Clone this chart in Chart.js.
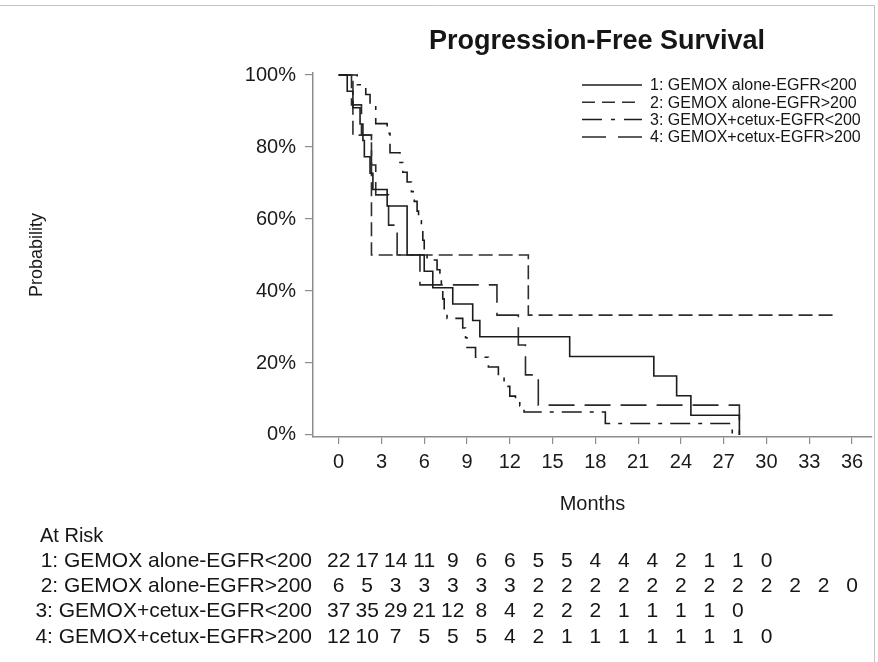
<!DOCTYPE html>
<html>
<head>
<meta charset="utf-8">
<title>Progression-Free Survival</title>
<script src="https://cdn.jsdelivr.net/npm/chart.js@4"></script>
<style>
  html, body { margin: 0; padding: 0; background: #fff; }
  #wrap { position: relative; width: 878px; height: 662px; }
</style>
</head>
<body>
<div id="wrap"><canvas id="pfsChart" width="878" height="662"></canvas></div>
<script>
const chartTitle = 'Progression-Free Survival';
const seriesLabels = [
  '1: GEMOX alone-EGFR<200',
  '2: GEMOX alone-EGFR>200',
  '3: GEMOX+cetux-EGFR<200',
  '4: GEMOX+cetux-EGFR>200'
];

// Kaplan-Meier steps: time of each drop (months) and survival after it
const t1 = [0, 0.6, 1.0, 1.5, 1.7, 1.8, 2.2, 2.4, 3.4, 4.8, 6.0, 6.6, 8.0, 9.4, 9.9, 16.2, 22.1, 23.7, 24.7, 28.1];
const s1 = [1, 0.955, 0.909, 0.864, 0.818, 0.773, 0.727, 0.682, 0.636, 0.5, 0.455, 0.409, 0.364, 0.318, 0.273, 0.218, 0.164, 0.109, 0.055, 0];

const t2 = [0, 1.0, 2.3, 13.3, 35.0];
const s2 = [1, 0.833, 0.5, 0.333, 0.333];

const t3 = [0, 1.3, 1.9, 2.2, 2.6, 3.4, 3.6, 4.3, 4.5, 4.8, 5.1, 5.3, 5.5, 5.6, 5.8, 5.9, 6.0, 6.2, 6.9, 7.1, 7.2, 7.3, 7.4, 7.6, 8.7, 8.9, 9.0, 9.6, 10.5, 11.2, 11.6, 12.0, 12.4, 12.7, 13.0, 18.7, 27.6];
const s3 = [1, 0.973, 0.946, 0.919, 0.865, 0.838, 0.784, 0.757, 0.730, 0.703, 0.676, 0.649, 0.622, 0.595, 0.568, 0.541, 0.514, 0.486, 0.459, 0.432, 0.405, 0.378, 0.351, 0.324, 0.297, 0.270, 0.243, 0.216, 0.189, 0.162, 0.135, 0.108, 0.097, 0.081, 0.064, 0.032, 0];

const t4 = [0, 0.9, 1.6, 2.3, 2.6, 3.5, 4.1, 5.7, 11.1, 12.6, 13.1, 14.0, 28.1];
const s4 = [1, 0.917, 0.833, 0.75, 0.667, 0.583, 0.5, 0.417, 0.333, 0.25, 0.167, 0.083, 0];

const xTicks = [0, 3, 6, 9, 12, 15, 18, 21, 24, 27, 30, 33, 36];
const yTicks = [0, 0.2, 0.4, 0.6, 0.8, 1];

// numbers at risk every 2 months
const atRiskMonths = [0, 2, 4, 6, 8, 10, 12, 14, 16, 18, 20, 22, 24, 26, 28, 30, 32, 34, 36];
const atRisk1 = [22, 17, 14, 11, 9, 6, 6, 5, 5, 4, 4, 4, 2, 1, 1, 0];
const atRisk2 = [6, 5, 3, 3, 3, 3, 3, 2, 2, 2, 2, 2, 2, 2, 2, 2, 2, 2, 0];
const atRisk3 = [37, 35, 29, 21, 12, 8, 4, 2, 2, 2, 1, 1, 1, 1, 0];
const atRisk4 = [12, 10, 7, 5, 5, 5, 4, 2, 1, 1, 1, 1, 1, 1, 1, 0];

const FONT = '"Liberation Sans", Arial, sans-serif';
const lineStyles = [
  { color: '#1c1c1c', dash: [] },
  { color: '#2e2e2e', dash: [14, 6] },
  { color: '#1c1c1c', dash: [20, 8, 4, 8] },
  { color: '#2a2a2a', dash: [26, 10] }
];
const legendDash = [[], [13, 7], [20, 9, 4, 9], [24, 12]];

const toPoints = (t, s) => t.map((m, i) => ({ x: m, y: s[i] }));
const curves = [[t1, s1], [t2, s2], [t3, s3], [t4, s4]];

const overlay = {
  id: 'pfsOverlay',
  afterDraw(chart) {
    const { ctx } = chart;
    const x = chart.scales.x;
    ctx.save();

    // thin frame along top and right
    ctx.strokeStyle = '#c4c4c4';
    ctx.lineWidth = 1;
    ctx.beginPath();
    ctx.moveTo(0, 5.5);
    ctx.lineTo(874.5, 5.5);
    ctx.lineTo(874.5, 662);
    ctx.stroke();

    ctx.fillStyle = '#161616';
    ctx.textBaseline = 'middle';
    ctx.textAlign = 'center';
    ctx.font = 'bold 27px ' + FONT;
    ctx.fillText(chartTitle, 597, 42);

    // legend
    chart.data.datasets.forEach((ds, i) => {
      const y = 85 + i * 17.3;
      ctx.strokeStyle = ds.borderColor;
      ctx.lineWidth = 1.5;
      ctx.setLineDash(legendDash[i]);
      ctx.beginPath();
      ctx.moveTo(582, y);
      ctx.lineTo(642, y);
      ctx.stroke();
      ctx.setLineDash([]);
      ctx.font = '16px ' + FONT;
      ctx.textAlign = 'left';
      ctx.fillText(ds.label, 650, y + 1);
    });

    // at-risk table
    ctx.font = '20px ' + FONT;
    ctx.textAlign = 'left';
    ctx.fillText('At Risk', 40, 536);
    const rows = [atRisk1, atRisk2, atRisk3, atRisk4];
    ctx.font = '21px ' + FONT;
    rows.forEach((row, r) => {
      const y = 561 + r * 25.3;
      ctx.textAlign = 'right';
      ctx.fillText(seriesLabels[r], 312, y);
      ctx.textAlign = 'center';
      row.forEach((n, i) => {
        ctx.fillText(String(n), x.getPixelForValue(atRiskMonths[i]), y);
      });
    });
    ctx.restore();
  }
};

new Chart(document.getElementById('pfsChart'), {
  type: 'scatter',
  data: {
    datasets: curves.map(([t, s], i) => ({
      label: seriesLabels[i],
      data: toPoints(t, s),
      showLine: true,
      stepped: true,
      borderColor: lineStyles[i].color,
      borderDash: lineStyles[i].dash,
      borderWidth: 1.6,
      pointRadius: 0,
      fill: false
    }))
  },
  options: {
    responsive: false,
    animation: false,
    devicePixelRatio: 1,
    layout: { padding: { top: 73, right: 6, bottom: 142, left: 0 } },
    plugins: {
      legend: { display: false },
      title: { display: false },
      tooltip: { enabled: false }
    },
    scales: {
      x: {
        type: 'linear',
        min: -1.8,
        max: 37.4,
        afterBuildTicks: (scale) => { scale.ticks = xTicks.map((v) => ({ value: v })); },
        afterFit: (scale) => { scale.height = 83; },
        border: { display: true, color: '#8d8d8d', width: 1.5 },
        grid: { display: true, drawOnChartArea: false, drawTicks: true, tickLength: 7, color: '#8d8d8d', lineWidth: 1.2 },
        ticks: { color: '#1a1a1a', font: { family: FONT, size: 20 }, padding: 6, maxRotation: 0 },
        title: { display: true, text: 'Months', color: '#1a1a1a', font: { family: FONT, size: 20 }, padding: { top: 0, bottom: 4 } }
      },
      y: {
        type: 'linear',
        min: -0.0056,
        max: 1.0056,
        afterBuildTicks: (scale) => { scale.ticks = yTicks.map((v) => ({ value: v })); },
        afterFit: (scale) => { scale.width = 313; },
        border: { display: true, color: '#8d8d8d', width: 1.5 },
        grid: { display: true, drawOnChartArea: false, drawTicks: true, tickLength: 8, color: '#8d8d8d', lineWidth: 1.2 },
        ticks: {
          color: '#1a1a1a',
          font: { family: FONT, size: 20 },
          padding: 9,
          callback: (v) => Math.round(v * 100) + '%'
        },
        title: { display: true, text: 'Probability', color: '#1a1a1a', font: { family: FONT, size: 18 }, padding: { top: 26, bottom: 0 } }
      }
    }
  },
  plugins: [overlay]
});
</script>
</body>
</html>
